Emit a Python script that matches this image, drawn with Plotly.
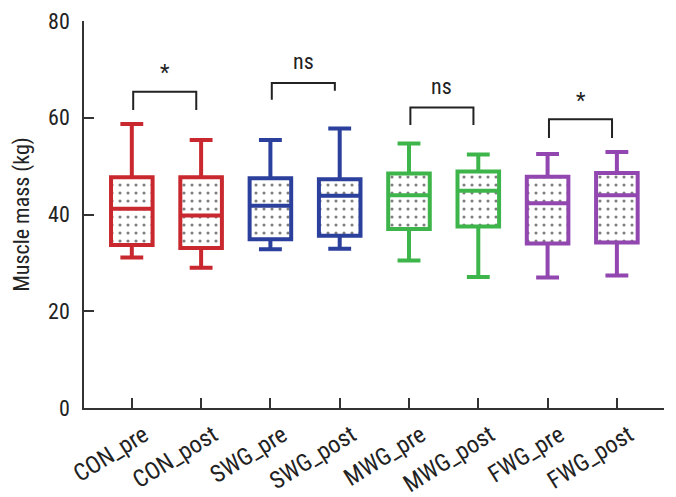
import plotly.graph_objects as go

categories = ["CON_pre", "CON_post", "SWG_pre", "SWG_post",
              "MWG_pre", "MWG_post", "FWG_pre", "FWG_post"]
lower_whisker = [31.1, 29.0, 32.8, 32.9, 30.5, 27.1, 27.0, 27.4]
q1_values = [33.7, 33.1, 34.9, 35.6, 37.0, 37.5, 34.0, 34.2]
median_values = [41.2, 39.8, 41.8, 43.9, 44.0, 44.9, 42.3, 44.0]
q3_values = [47.7, 47.7, 47.5, 47.3, 48.5, 48.9, 47.8, 48.6]
upper_whisker = [58.7, 55.4, 55.4, 57.8, 54.7, 52.4, 52.5, 52.9]

group_colors = ["#c8282e", "#2b3f9c", "#3db54a", "#9146b0"]

# significance brackets
bracket_left = [0, 2, 4, 6]
bracket_top = [65.4, 67.2, 62.1, 59.7]
bracket_left_leg = [61.6, 63.7, 58.5, 55.8]
bracket_right_leg = [61.6, 65.6, 58.5, 55.8]
bracket_label = ["*", "ns", "ns", "*"]
bracket_label_y = [69.3, 71.6, 66.4, 63.5]

FONT = "Roboto Condensed, Liberation Sans Narrow, DejaVu Sans Condensed, Roboto, sans-serif"
BOXW = 0.6

fig = go.Figure()

# dotted fill under boxes
fig.add_trace(go.Bar(
    x=categories,
    y=[q3 - q1 for q1, q3 in zip(q1_values, q3_values)],
    base=q1_values,
    width=BOXW,
    marker=dict(color="white", line=dict(width=0),
                pattern=dict(shape=".", fgcolor="#000000", bgcolor="white",
                             size=8, solidity=0.12)),
    hoverinfo="skip",
    showlegend=False,
))

for g in range(4):
    idx = [2 * g, 2 * g + 1]
    fig.add_trace(go.Box(
        x=[categories[i] for i in idx],
        lowerfence=[lower_whisker[i] for i in idx],
        q1=[q1_values[i] for i in idx],
        median=[median_values[i] for i in idx],
        q3=[q3_values[i] for i in idx],
        upperfence=[upper_whisker[i] for i in idx],
        width=BOXW,
        whiskerwidth=0.55,
        fillcolor="rgba(0,0,0,0)",
        line=dict(color=group_colors[g], width=4),
        showlegend=False,
    ))

for k in range(len(bracket_left)):
    x0 = bracket_left[k] + 0.02
    x1 = bracket_left[k] + 1 - 0.07
    fig.add_shape(type="path", xref="x", yref="y",
                  path=f"M {x0} {bracket_left_leg[k]} L {x0} {bracket_top[k]} "
                       f"L {x1} {bracket_top[k]} L {x1} {bracket_right_leg[k]}",
                  line=dict(color="#222222", width=2))
    fig.add_annotation(x=(x0 + x1) / 2, y=bracket_label_y[k], xref="x", yref="y",
                       text=bracket_label[k], showarrow=False,
                       font=dict(family=FONT, size=22, color="#222222"))

# page body has an 8px margin, so the figure is 8px smaller and margins shifted
fig.update_layout(
    width=668, height=489,
    margin=dict(l=76, r=12, t=13, b=89),
    paper_bgcolor="white", plot_bgcolor="white",
    barmode="overlay",
    font=dict(family=FONT, size=20, color="#222222"),
    showlegend=False,
)
fig.update_xaxes(
    type="category", categoryorder="array", categoryarray=categories,
    range=[-0.69, 7.68], automargin=False,
    showline=True, linecolor="#333333", linewidth=1.5,
    ticks="inside", ticklen=10, tickwidth=1.5, tickcolor="#333333",
    tickangle=-32, ticklabelstandoff=2, ticklabelshift=12,
    tickfont=dict(family=FONT, size=24, color="#222222"),
    showgrid=False, zeroline=False,
)
fig.update_yaxes(
    range=[0, 80], tickvals=[0, 20, 40, 60, 80], automargin=False,
    showline=True, linecolor="#333333", linewidth=1.5,
    ticks="inside", ticklen=10, tickwidth=1.5, tickcolor="#333333",
    ticklabelstandoff=8,
    tickfont=dict(family=FONT, size=22, color="#222222"),
    title=dict(text="Muscle mass (kg)", font=dict(family=FONT, size=22, color="#222222"),
               standoff=12),
    showgrid=False, zeroline=False,
)

fig.write_html("out.html")
